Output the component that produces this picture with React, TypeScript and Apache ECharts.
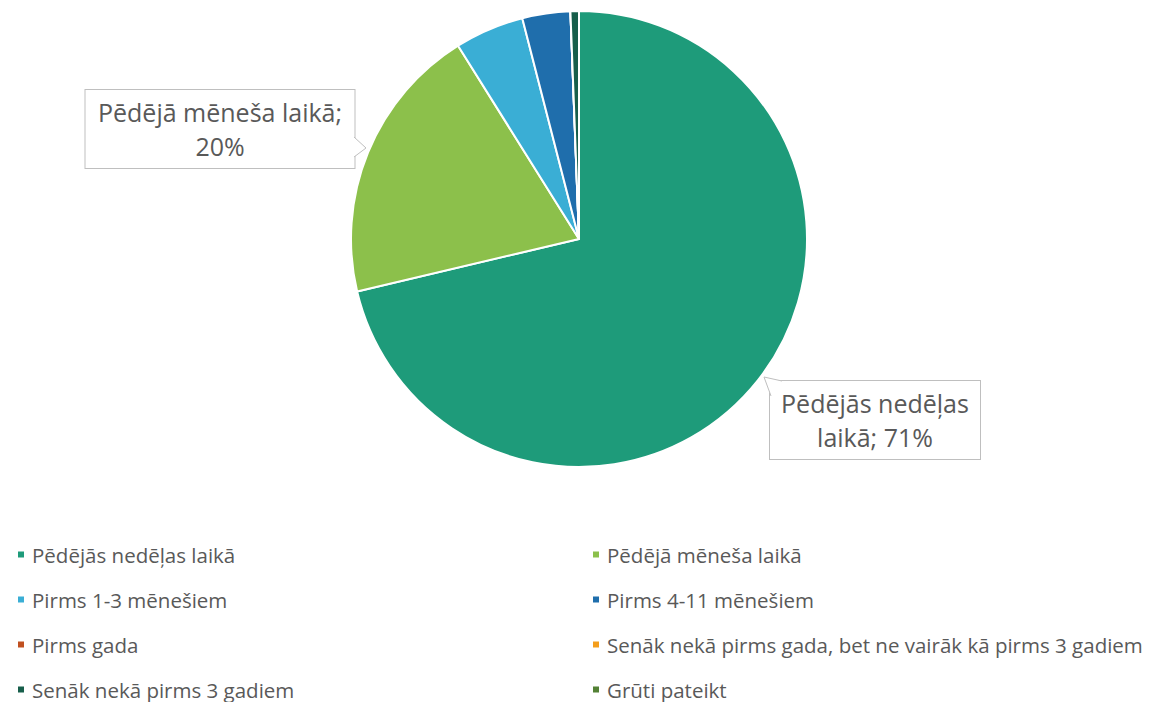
import React, { useEffect, useRef } from "react";
import * as echarts from "echarts";

const categories = [
  "Pēdējās nedēļas laikā",
  "Pēdējā mēneša laikā",
  "Pirms 1-3 mēnešiem",
  "Pirms 4-11 mēnešiem",
  "Pirms gada",
  "Senāk nekā pirms gada, bet ne vairāk kā pirms 3 gadiem",
  "Senāk nekā pirms 3 gadiem",
  "Grūti pateikt",
];
const values = [71.3, 19.8, 4.9, 3.4, 0, 0, 0.6, 0];
const colors = ["#1E9B7A", "#8CC04B", "#3AAED5", "#1F6EAC", "#C05020", "#F49E1C", "#175E4B", "#538135"];
const labelTexts = ["Pēdējās nedēļas\nlaikā; ", "Pēdējā mēneša laikā;\n"];

const FONT = "'Open Sans', sans-serif";
const TXT = "#595959";

export default function App() {
  const ref = useRef<HTMLDivElement>(null);
  useEffect(() => {
    const chart = echarts.init(ref.current!, null, { renderer: "svg" });
    const labelBox = (w: number) => ({
      show: true,
      formatter: (p: any) => labelTexts[p.dataIndex] + Math.round(p.value) + "%",
      fontFamily: FONT,
      fontSize: 25,
      lineHeight: 34,
      color: TXT,
      backgroundColor: "#ffffff",
      borderColor: "#BFBFBF",
      borderWidth: 1,
      padding: [5, 3],
      width: w,
      overflow: "none",
      align: "center",
    });
    const data = categories.map((c, i) => {
      const item: any = { name: c, value: values[i], itemStyle: { color: colors[i] } };
      if (i === 0) item.label = labelBox(204);
      else if (i === 1) item.label = labelBox(263);
      else item.label = { show: false };
      return item;
    });
    const left = [0, 2, 4, 6].map((i) => categories[i]);
    const right = [1, 3, 5, 7].map((i) => categories[i]);
    const legendCommon = {
      orient: "vertical",
      top: 539,
      height: 400,
      itemWidth: 8,
      itemHeight: 8,
      itemGap: 24,
      icon: "rect",
      textStyle: { fontFamily: FONT, fontSize: 20.5, color: TXT, padding: [0, 0, 0, 2] },
    };
    chart.setOption({
      animation: false,
      backgroundColor: "#ffffff",
      color: colors,
      legend: [
        { ...legendCommon, left: 11, data: left },
        { ...legendCommon, left: 586, data: right },
      ],
      series: [
        {
          type: "pie",
          center: [579, 239],
          radius: 228,
          startAngle: 90,
          clockwise: true,
          avoidLabelOverlap: false,
          itemStyle: { borderColor: "#ffffff", borderWidth: 2 },
          label: { show: false },
          labelLine: { show: false },
          labelLayout: (p: any) => {
            if (p.dataIndex === 0) return { x: 875, y: 420, align: "center", verticalAlign: "middle" };
            if (p.dataIndex === 1) return { x: 220, y: 129, align: "center", verticalAlign: "middle" };
            return {};
          },
          data,
        },
      ],
      graphic: [
        {
          type: "polyline",
          z: 100,
          shape: { points: [[354, 137], [366, 148], [354, 157]] },
          style: { fill: "#ffffff", stroke: "#BFBFBF", lineWidth: 1 },
        },
        {
          type: "polyline",
          z: 100,
          shape: { points: [[782, 381], [764, 377], [771, 396]] },
          style: { fill: "#ffffff", stroke: "#BFBFBF", lineWidth: 1 },
        },
      ],
    });
    return () => chart.dispose();
  }, []);
  return (
    <div
      ref={ref}
      style={{ position: "fixed", left: 0, top: 0, width: 1155, height: 702, background: "#fff" }}
    />
  );
}
